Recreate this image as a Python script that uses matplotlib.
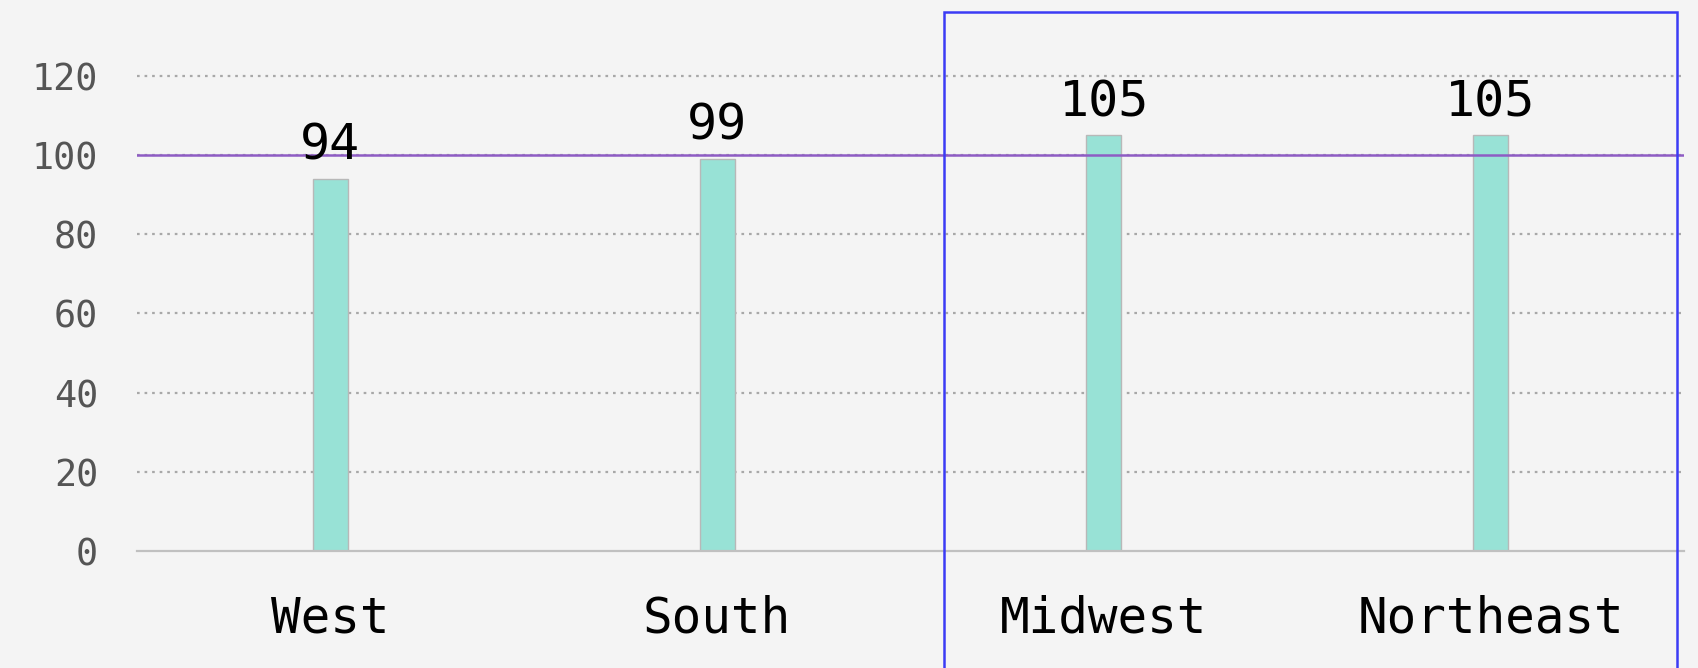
import matplotlib
matplotlib.use("Agg")
import matplotlib.pyplot as plt
from matplotlib.patches import Rectangle

categories = ["West", "South", "Midwest", "Northeast"]
values = [94, 99, 105, 105]
y_ticks = [0, 20, 40, 60, 80, 100, 120]
reference_value = 100

W, H = 1699, 668
fig = plt.figure(figsize=(W / 100, H / 100), dpi=100)
bg = "#f4f4f4"
fig.patch.set_facecolor(bg)

left, right = 137 / W, 1684 / W
bottom, top = (H - 551) / H, (H - 36) / H
ax = fig.add_axes([left, bottom, right - left, top - bottom])
ax.set_facecolor(bg)

x = list(range(len(categories)))
ax.set_xlim(-0.5, len(categories) - 0.5)
ax.set_ylim(0, 130)

for yt in y_ticks[1:]:
    ax.axhline(yt, color="#a8a8a8", linewidth=1.6, linestyle=(0, (1.2, 2.2)), zorder=1)

ax.bar(x, values, width=0.09, color="#98e2d6", edgecolor="#b8b8b8", linewidth=1.0, zorder=2)

ax.axhline(reference_value, color="#8e5cc4", linewidth=1.8, zorder=3)

for xi, v in zip(x, values):
    ax.annotate(str(v), (xi, v), xytext=(0, 6.5), textcoords="offset points",
                ha="center", va="bottom", fontsize=36, family="DejaVu Sans Mono",
                color="black", zorder=4)

for s in ["top", "right", "left"]:
    ax.spines[s].set_visible(False)
ax.spines["bottom"].set_color("#c0c0c0")
ax.spines["bottom"].set_linewidth(1.6)

ax.set_yticks(y_ticks)
ax.set_yticklabels([str(t) for t in y_ticks], family="DejaVu Sans Mono", fontsize=26.5, color="#555555")
ax.set_xticks(x)
ax.set_xticklabels(categories, family="DejaVu Sans Mono", fontsize=35.5, color="black")
ax.tick_params(axis="y", length=0, pad=28)
ax.tick_params(axis="x", length=0, pad=31)

# highlight box
fig.patches.append(Rectangle((944 / W, -0.05), (1677 - 944) / W, (H - 12) / H + 0.05,
                             transform=fig.transFigure, fill=False,
                             edgecolor="#3b3bf5", linewidth=1.8, zorder=10))

fig.savefig("out.png", dpi=100, facecolor=bg)
